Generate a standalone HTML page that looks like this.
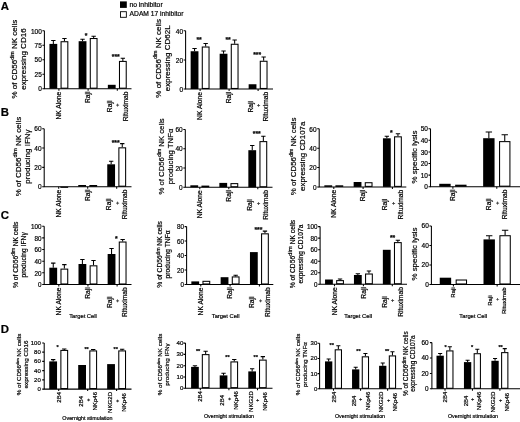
<!DOCTYPE html>
<html><head><meta charset="utf-8"><style>
html,body{margin:0;padding:0;background:#fff;}
svg{display:block;will-change:transform;filter:blur(0.35px);}
text{font-family:"Liberation Sans", sans-serif;fill:#000;stroke:#000;stroke-width:0.2px;}
</style></head><body>
<svg width="520" height="422" viewBox="0 0 520 422">
<rect width="520" height="422" fill="#fff"/>
<path d="M53.35 43.9V40.5M51.17 40.5H55.53" stroke="#000" stroke-width="1.05" fill="none"/>
<rect x="49.45" y="43.9" width="7.8" height="44.8" fill="#000"/>
<path d="M64.45 41.2V38.4M62.27 38.4H66.63" stroke="#000" stroke-width="1.05" fill="none"/>
<rect x="61.07" y="41.73" width="6.75" height="46.45" fill="#fff" stroke="#000" stroke-width="1.05"/>
<path d="M82.55 41.2V39.25M80.37 39.25H84.73" stroke="#000" stroke-width="1.05" fill="none"/>
<rect x="78.65" y="41.2" width="7.8" height="47.5" fill="#000"/>
<path d="M93.65 38V36.3M91.47 36.3H95.83" stroke="#000" stroke-width="1.05" fill="none"/>
<rect x="90.28" y="38.52" width="6.75" height="49.65" fill="#fff" stroke="#000" stroke-width="1.05"/>
<text x="86" y="37.8" font-size="6.8" text-anchor="middle" font-weight="bold">*</text>
<rect x="107.85" y="84.8" width="7.8" height="3.9" fill="#000"/>
<path d="M122.85 60.9V58.3M120.67 58.3H125.03" stroke="#000" stroke-width="1.05" fill="none"/>
<rect x="119.48" y="61.42" width="6.75" height="26.75" fill="#fff" stroke="#000" stroke-width="1.05"/>
<text x="115.8" y="58.5" font-size="6.8" text-anchor="middle" font-weight="bold">***</text>
<path d="M44.4 30.8V88.7H131.5" stroke="#000" stroke-width="1.05" fill="none"/>
<text x="41.8" y="91.44" font-size="6.5" text-anchor="end">0</text>
<text x="41.8" y="76.96" font-size="6.5" text-anchor="end">25</text>
<text x="41.8" y="62.49" font-size="6.5" text-anchor="end">50</text>
<text x="41.8" y="48.01" font-size="6.5" text-anchor="end">75</text>
<text x="41.8" y="33.54" font-size="6.5" text-anchor="end">100</text>
<path d="M42.4 88.7H44.4M42.4 74.22H44.4M42.4 59.75H44.4M42.4 45.28H44.4M42.4 30.8H44.4M58.9 88.7V90.7M88.1 88.7V90.7M117.3 88.7V90.7" stroke="#000" stroke-width="1.05" fill="none"/>
<text transform="translate(61.2,105.65) rotate(-90)" font-size="6.7" text-anchor="middle">NK Alone</text>
<text transform="translate(90.4,97.27) rotate(-90)" font-size="6.7" text-anchor="middle">Raji</text>
<text transform="translate(111.7,106.39) rotate(-90)" font-size="6.7" text-anchor="middle">Raji</text>
<text transform="translate(119.4,105.09) rotate(-90)" font-size="5.49" text-anchor="middle">+</text>
<text transform="translate(127.5,106.39) rotate(-90)" font-size="6.7" text-anchor="middle">Rituximab</text>
<text transform="translate(17,59.1) rotate(-90)" font-size="8" text-anchor="middle">% of CD56<tspan font-size="5.28" dy="-3.04">dim</tspan><tspan dy="3.04"> NK cells</tspan></text>
<text transform="translate(26.1,59.1) rotate(-90)" font-size="8" text-anchor="middle">expressing CD16</text>
<path d="M194.55 51.25V48.5M192.37 48.5H196.73" stroke="#000" stroke-width="1.05" fill="none"/>
<rect x="190.65" y="51.25" width="7.8" height="37.75" fill="#000"/>
<path d="M205.65 46.5V43.5M203.47 43.5H207.83" stroke="#000" stroke-width="1.05" fill="none"/>
<rect x="202.28" y="47.02" width="6.75" height="41.45" fill="#fff" stroke="#000" stroke-width="1.05"/>
<text x="199.1" y="41.8" font-size="6.8" text-anchor="middle" font-weight="bold">**</text>
<path d="M223.55 53.75V51M221.37 51H225.73" stroke="#000" stroke-width="1.05" fill="none"/>
<rect x="219.65" y="53.75" width="7.8" height="35.25" fill="#000"/>
<path d="M234.65 43.75V40M232.47 40H236.83" stroke="#000" stroke-width="1.05" fill="none"/>
<rect x="231.28" y="44.27" width="6.75" height="44.2" fill="#fff" stroke="#000" stroke-width="1.05"/>
<text x="228.1" y="41.8" font-size="6.8" text-anchor="middle" font-weight="bold">**</text>
<rect x="248.65" y="84.25" width="7.8" height="4.75" fill="#000"/>
<path d="M263.65 60.75V57M261.47 57H265.83" stroke="#000" stroke-width="1.05" fill="none"/>
<rect x="260.27" y="61.27" width="6.75" height="27.2" fill="#fff" stroke="#000" stroke-width="1.05"/>
<text x="257.1" y="56.8" font-size="6.8" text-anchor="middle" font-weight="bold">***</text>
<path d="M185.6 30.8V89H273" stroke="#000" stroke-width="1.05" fill="none"/>
<text x="183" y="91.74" font-size="6.5" text-anchor="end">0</text>
<text x="183" y="62.64" font-size="6.5" text-anchor="end">20</text>
<text x="183" y="33.54" font-size="6.5" text-anchor="end">40</text>
<path d="M183.6 89H185.6M183.6 59.9H185.6M183.6 30.8H185.6M200.1 89V91M229.1 89V91M258.1 89V91" stroke="#000" stroke-width="1.05" fill="none"/>
<text transform="translate(202.4,105.95) rotate(-90)" font-size="6.7" text-anchor="middle">NK Alone</text>
<text transform="translate(231.4,97.57) rotate(-90)" font-size="6.7" text-anchor="middle">Raji</text>
<text transform="translate(252.5,106.69) rotate(-90)" font-size="6.7" text-anchor="middle">Raji</text>
<text transform="translate(260.2,105.39) rotate(-90)" font-size="5.49" text-anchor="middle">+</text>
<text transform="translate(268.3,106.69) rotate(-90)" font-size="6.7" text-anchor="middle">Rituximab</text>
<text transform="translate(160.5,58.3) rotate(-90)" font-size="8" text-anchor="middle">% of CD56<tspan font-size="5.28" dy="-3.04">dim</tspan><tspan dy="3.04"> NK cells</tspan></text>
<text transform="translate(169.6,58.3) rotate(-90)" font-size="8" text-anchor="middle">expressing CD62L</text>
<rect x="49.25" y="186.7" width="7.8" height="0" fill="#000"/>
<rect x="60.88" y="187.22" width="6.75" height="0.1" fill="#fff" stroke="#000" stroke-width="1.05"/>
<rect x="78.25" y="185" width="7.8" height="1.7" fill="#000"/>
<rect x="89.88" y="185.53" width="6.75" height="0.65" fill="#fff" stroke="#000" stroke-width="1.05"/>
<path d="M111.15 164.3V161.2M108.97 161.2H113.33" stroke="#000" stroke-width="1.05" fill="none"/>
<rect x="107.25" y="164.3" width="7.8" height="22.4" fill="#000"/>
<path d="M122.25 147.3V143.6M120.07 143.6H124.43" stroke="#000" stroke-width="1.05" fill="none"/>
<rect x="118.88" y="147.83" width="6.75" height="38.35" fill="#fff" stroke="#000" stroke-width="1.05"/>
<text x="115.7" y="144.5" font-size="6.8" text-anchor="middle" font-weight="bold">***</text>
<path d="M44.2 128.7V186.7H131.5" stroke="#000" stroke-width="1.05" fill="none"/>
<text x="41.6" y="189.44" font-size="6.5" text-anchor="end">0</text>
<text x="41.6" y="170.1" font-size="6.5" text-anchor="end">20</text>
<text x="41.6" y="150.77" font-size="6.5" text-anchor="end">40</text>
<text x="41.6" y="131.44" font-size="6.5" text-anchor="end">60</text>
<path d="M42.2 186.7H44.2M42.2 167.37H44.2M42.2 148.03H44.2M42.2 128.7H44.2M58.7 186.7V188.7M87.7 186.7V188.7M116.7 186.7V188.7" stroke="#000" stroke-width="1.05" fill="none"/>
<text transform="translate(61,203.65) rotate(-90)" font-size="6.7" text-anchor="middle">NK Alone</text>
<text transform="translate(90,195.27) rotate(-90)" font-size="6.7" text-anchor="middle">Raji</text>
<text transform="translate(111.1,204.39) rotate(-90)" font-size="6.7" text-anchor="middle">Raji</text>
<text transform="translate(118.8,203.09) rotate(-90)" font-size="5.49" text-anchor="middle">+</text>
<text transform="translate(126.9,204.39) rotate(-90)" font-size="6.7" text-anchor="middle">Rituximab</text>
<text transform="translate(20.5,156.5) rotate(-90)" font-size="8" text-anchor="middle">% of CD56<tspan font-size="5.76" dy="-3.04">dim</tspan><tspan dy="3.04"> NK cells</tspan></text>
<text transform="translate(29.6,156.5) rotate(-90)" font-size="8" text-anchor="middle">producing IFNγ</text>
<rect x="190.35" y="185.3" width="7.8" height="2" fill="#000"/>
<rect x="201.98" y="186.12" width="6.75" height="0.65" fill="#fff" stroke="#000" stroke-width="1.05"/>
<rect x="219.35" y="182.9" width="7.8" height="4.4" fill="#000"/>
<rect x="230.98" y="183.62" width="6.75" height="3.15" fill="#fff" stroke="#000" stroke-width="1.05"/>
<path d="M252.25 150.2V145.5M250.07 145.5H254.43" stroke="#000" stroke-width="1.05" fill="none"/>
<rect x="248.35" y="150.2" width="7.8" height="37.1" fill="#000"/>
<path d="M263.35 141.1V136.3M261.17 136.3H265.53" stroke="#000" stroke-width="1.05" fill="none"/>
<rect x="259.97" y="141.62" width="6.75" height="45.15" fill="#fff" stroke="#000" stroke-width="1.05"/>
<text x="256.8" y="136.3" font-size="6.8" text-anchor="middle" font-weight="bold">***</text>
<path d="M185.3 129.4V187.3H272.5" stroke="#000" stroke-width="1.05" fill="none"/>
<text x="182.7" y="190.04" font-size="6.5" text-anchor="end">0</text>
<text x="182.7" y="170.74" font-size="6.5" text-anchor="end">20</text>
<text x="182.7" y="151.44" font-size="6.5" text-anchor="end">40</text>
<text x="182.7" y="132.14" font-size="6.5" text-anchor="end">60</text>
<path d="M183.3 187.3H185.3M183.3 168H185.3M183.3 148.7H185.3M183.3 129.4H185.3M199.8 187.3V189.3M228.8 187.3V189.3M257.8 187.3V189.3" stroke="#000" stroke-width="1.05" fill="none"/>
<text transform="translate(202.1,204.25) rotate(-90)" font-size="6.7" text-anchor="middle">NK Alone</text>
<text transform="translate(231.1,195.87) rotate(-90)" font-size="6.7" text-anchor="middle">Raji</text>
<text transform="translate(252.2,204.99) rotate(-90)" font-size="6.7" text-anchor="middle">Raji</text>
<text transform="translate(259.9,203.69) rotate(-90)" font-size="5.49" text-anchor="middle">+</text>
<text transform="translate(268,204.99) rotate(-90)" font-size="6.7" text-anchor="middle">Rituximab</text>
<text transform="translate(163.5,156.4) rotate(-90)" font-size="7.75" text-anchor="middle">% of CD56<tspan font-size="5.12" dy="-2.94">dim</tspan><tspan dy="2.94"> NK cells</tspan></text>
<text transform="translate(172.6,156.4) rotate(-90)" font-size="7.75" text-anchor="middle">producing TNFα</text>
<rect x="324.35" y="185.3" width="7.8" height="1.6" fill="#000"/>
<rect x="335.97" y="185.83" width="6.75" height="0.55" fill="#fff" stroke="#000" stroke-width="1.05"/>
<rect x="353.65" y="182" width="7.8" height="4.9" fill="#000"/>
<rect x="365.27" y="182.72" width="6.75" height="3.65" fill="#fff" stroke="#000" stroke-width="1.05"/>
<path d="M386.85 138.3V136.3M384.67 136.3H389.03" stroke="#000" stroke-width="1.05" fill="none"/>
<rect x="382.95" y="138.3" width="7.8" height="48.6" fill="#000"/>
<path d="M397.95 136.3V133.8M395.77 133.8H400.13" stroke="#000" stroke-width="1.05" fill="none"/>
<rect x="394.57" y="136.83" width="6.75" height="49.55" fill="#fff" stroke="#000" stroke-width="1.05"/>
<text x="391.4" y="135" font-size="6.8" text-anchor="middle" font-weight="bold">*</text>
<path d="M319.2 128.8V186.9H406.3" stroke="#000" stroke-width="1.05" fill="none"/>
<text x="316.6" y="189.64" font-size="6.5" text-anchor="end">0</text>
<text x="316.6" y="170.27" font-size="6.5" text-anchor="end">20</text>
<text x="316.6" y="150.9" font-size="6.5" text-anchor="end">40</text>
<text x="316.6" y="131.54" font-size="6.5" text-anchor="end">60</text>
<path d="M317.2 186.9H319.2M317.2 167.53H319.2M317.2 148.17H319.2M317.2 128.8H319.2M333.8 186.9V188.9M363.1 186.9V188.9M392.4 186.9V188.9" stroke="#000" stroke-width="1.05" fill="none"/>
<text transform="translate(336.1,203.85) rotate(-90)" font-size="6.7" text-anchor="middle">NK Alone</text>
<text transform="translate(365.4,195.47) rotate(-90)" font-size="6.7" text-anchor="middle">Raji</text>
<text transform="translate(386.8,204.59) rotate(-90)" font-size="6.7" text-anchor="middle">Raji</text>
<text transform="translate(394.5,203.29) rotate(-90)" font-size="5.49" text-anchor="middle">+</text>
<text transform="translate(402.6,204.59) rotate(-90)" font-size="6.7" text-anchor="middle">Rituximab</text>
<text transform="translate(296,156.3) rotate(-90)" font-size="7.9" text-anchor="middle">% of CD56<tspan font-size="5.21" dy="-3">dim</tspan><tspan dy="3"> NK cells</tspan></text>
<text transform="translate(305.1,156.3) rotate(-90)" font-size="7.9" text-anchor="middle">expressing CD107a</text>
<rect x="439.25" y="183.8" width="11.4" height="2.9" fill="#000"/>
<rect x="455.67" y="185.22" width="10.35" height="0.95" fill="#fff" stroke="#000" stroke-width="1.05"/>
<path d="M488.85 138.2V131.9M485.66 131.9H492.04" stroke="#000" stroke-width="1.05" fill="none"/>
<rect x="483.15" y="138.2" width="11.4" height="48.5" fill="#000"/>
<path d="M504.75 141.1V134.7M501.56 134.7H507.94" stroke="#000" stroke-width="1.05" fill="none"/>
<rect x="499.57" y="141.62" width="10.35" height="44.55" fill="#fff" stroke="#000" stroke-width="1.05"/>
<path d="M430.5 128.7V186.7H520" stroke="#000" stroke-width="1.05" fill="none"/>
<text x="427.9" y="189.44" font-size="6.5" text-anchor="end">0</text>
<text x="427.9" y="177.84" font-size="6.5" text-anchor="end">10</text>
<text x="427.9" y="166.24" font-size="6.5" text-anchor="end">20</text>
<text x="427.9" y="154.64" font-size="6.5" text-anchor="end">30</text>
<text x="427.9" y="143.04" font-size="6.5" text-anchor="end">40</text>
<text x="427.9" y="131.44" font-size="6.5" text-anchor="end">50</text>
<path d="M428.5 186.7H430.5M428.5 175.1H430.5M428.5 163.5H430.5M428.5 151.9H430.5M428.5 140.3H430.5M428.5 128.7H430.5M452.9 186.7V188.7M496.8 186.7V188.7" stroke="#000" stroke-width="1.05" fill="none"/>
<text transform="translate(455.2,195.27) rotate(-90)" font-size="6.7" text-anchor="middle">Raji</text>
<text transform="translate(491.2,204.39) rotate(-90)" font-size="6.7" text-anchor="middle">Raji</text>
<text transform="translate(498.9,203.09) rotate(-90)" font-size="5.49" text-anchor="middle">+</text>
<text transform="translate(507,204.39) rotate(-90)" font-size="6.7" text-anchor="middle">Rituximab</text>
<text transform="translate(417,157) rotate(-90)" font-size="7.9" text-anchor="middle">% specific lysis</text>
<path d="M53.25 267.7V263.1M51.07 263.1H55.43" stroke="#000" stroke-width="1.05" fill="none"/>
<rect x="49.35" y="267.7" width="7.8" height="16.8" fill="#000"/>
<path d="M64.35 268.6V264.6M62.17 264.6H66.53" stroke="#000" stroke-width="1.05" fill="none"/>
<rect x="60.98" y="269.12" width="6.75" height="14.85" fill="#fff" stroke="#000" stroke-width="1.05"/>
<path d="M82.4 264V259.4M80.22 259.4H84.58" stroke="#000" stroke-width="1.05" fill="none"/>
<rect x="78.5" y="264" width="7.8" height="20.5" fill="#000"/>
<path d="M93.5 265.3V260.4M91.32 260.4H95.68" stroke="#000" stroke-width="1.05" fill="none"/>
<rect x="90.13" y="265.82" width="6.75" height="18.15" fill="#fff" stroke="#000" stroke-width="1.05"/>
<path d="M111.55 254V248.5M109.37 248.5H113.73" stroke="#000" stroke-width="1.05" fill="none"/>
<rect x="107.65" y="254" width="7.8" height="30.5" fill="#000"/>
<path d="M122.65 241.5V239.4M120.47 239.4H124.83" stroke="#000" stroke-width="1.05" fill="none"/>
<rect x="119.28" y="242.03" width="6.75" height="41.95" fill="#fff" stroke="#000" stroke-width="1.05"/>
<text x="116.4" y="240.5" font-size="6.8" text-anchor="middle" font-weight="bold">*</text>
<path d="M44.2 226.2V284.5H131.5" stroke="#000" stroke-width="1.05" fill="none"/>
<text x="41.6" y="287.17" font-size="6.3" text-anchor="end">0</text>
<text x="41.6" y="275.51" font-size="6.3" text-anchor="end">20</text>
<text x="41.6" y="263.85" font-size="6.3" text-anchor="end">40</text>
<text x="41.6" y="252.19" font-size="6.3" text-anchor="end">60</text>
<text x="41.6" y="240.53" font-size="6.3" text-anchor="end">80</text>
<text x="41.6" y="228.87" font-size="6.3" text-anchor="end">100</text>
<path d="M42.2 284.5H44.2M42.2 272.84H44.2M42.2 261.18H44.2M42.2 249.52H44.2M42.2 237.86H44.2M42.2 226.2H44.2M58.8 284.5V286.5M87.95 284.5V286.5M117.1 284.5V286.5" stroke="#000" stroke-width="1.05" fill="none"/>
<text transform="translate(61.1,301.45) rotate(-90)" font-size="6.7" text-anchor="middle">NK Alone</text>
<text transform="translate(90.25,293.07) rotate(-90)" font-size="6.7" text-anchor="middle">Raji</text>
<text transform="translate(111.5,302.19) rotate(-90)" font-size="6.7" text-anchor="middle">Raji</text>
<text transform="translate(119.2,300.89) rotate(-90)" font-size="5.49" text-anchor="middle">+</text>
<text transform="translate(127.3,302.19) rotate(-90)" font-size="6.7" text-anchor="middle">Rituximab</text>
<text transform="translate(18,254.9) rotate(-90)" font-size="6.7" text-anchor="middle">% of CD56<tspan font-size="4.69" dy="-2.55">dim</tspan><tspan dy="2.55"> NK cells</tspan></text>
<text transform="translate(25.6,254.9) rotate(-90)" font-size="6.7" text-anchor="middle">producing IFNγ</text>
<text x="83" y="317.8" font-size="5.8" text-anchor="middle">Target Cell</text>
<rect x="191.35" y="281.4" width="7.8" height="3.1" fill="#000"/>
<rect x="202.97" y="281.32" width="6.75" height="2.65" fill="#fff" stroke="#000" stroke-width="1.05"/>
<rect x="220.65" y="277.2" width="7.8" height="7.3" fill="#000"/>
<path d="M235.65 276.4V275.3M233.47 275.3H237.83" stroke="#000" stroke-width="1.05" fill="none"/>
<rect x="232.28" y="276.92" width="6.75" height="7.05" fill="#fff" stroke="#000" stroke-width="1.05"/>
<rect x="249.95" y="252.1" width="7.8" height="32.4" fill="#000"/>
<path d="M264.95 233.3V231.1M262.77 231.1H267.13" stroke="#000" stroke-width="1.05" fill="none"/>
<rect x="261.57" y="233.83" width="6.75" height="50.15" fill="#fff" stroke="#000" stroke-width="1.05"/>
<text x="258.4" y="232.3" font-size="6.8" text-anchor="middle" font-weight="bold">***</text>
<path d="M186.6 226.6V284.5H273.3" stroke="#000" stroke-width="1.05" fill="none"/>
<text x="184" y="287.17" font-size="6.3" text-anchor="end">0</text>
<text x="184" y="272.69" font-size="6.3" text-anchor="end">20</text>
<text x="184" y="258.22" font-size="6.3" text-anchor="end">40</text>
<text x="184" y="243.74" font-size="6.3" text-anchor="end">60</text>
<text x="184" y="229.27" font-size="6.3" text-anchor="end">80</text>
<path d="M184.6 284.5H186.6M184.6 270.02H186.6M184.6 255.55H186.6M184.6 241.07H186.6M184.6 226.6H186.6M200.8 284.5V286.5M230.1 284.5V286.5M259.4 284.5V286.5" stroke="#000" stroke-width="1.05" fill="none"/>
<text transform="translate(203.1,301.45) rotate(-90)" font-size="6.7" text-anchor="middle">NK Alone</text>
<text transform="translate(232.4,293.07) rotate(-90)" font-size="6.7" text-anchor="middle">Raji</text>
<text transform="translate(253.8,302.19) rotate(-90)" font-size="6.7" text-anchor="middle">Raji</text>
<text transform="translate(261.5,300.89) rotate(-90)" font-size="5.49" text-anchor="middle">+</text>
<text transform="translate(269.6,302.19) rotate(-90)" font-size="6.7" text-anchor="middle">Rituximab</text>
<text transform="translate(162.3,254.4) rotate(-90)" font-size="6.7" text-anchor="middle">% of CD56<tspan font-size="4.82" dy="-2.55">dim</tspan><tspan dy="2.55"> NK cells</tspan></text>
<text transform="translate(169.9,254.4) rotate(-90)" font-size="6.7" text-anchor="middle">producing TNFα</text>
<text x="225.6" y="317.8" font-size="5.8" text-anchor="middle">Target Cell</text>
<rect x="325.05" y="279.5" width="7.8" height="4.8" fill="#000"/>
<path d="M340.05 280.1V279M337.87 279H342.23" stroke="#000" stroke-width="1.05" fill="none"/>
<rect x="336.67" y="280.62" width="6.75" height="3.15" fill="#fff" stroke="#000" stroke-width="1.05"/>
<path d="M357.85 275V273.7M355.67 273.7H360.03" stroke="#000" stroke-width="1.05" fill="none"/>
<rect x="353.95" y="275" width="7.8" height="9.3" fill="#000"/>
<path d="M368.95 273.5V271M366.77 271H371.13" stroke="#000" stroke-width="1.05" fill="none"/>
<rect x="365.57" y="274.02" width="6.75" height="9.75" fill="#fff" stroke="#000" stroke-width="1.05"/>
<rect x="382.85" y="249.8" width="7.8" height="34.5" fill="#000"/>
<path d="M397.85 242.1V240.3M395.67 240.3H400.03" stroke="#000" stroke-width="1.05" fill="none"/>
<rect x="394.47" y="242.62" width="6.75" height="41.15" fill="#fff" stroke="#000" stroke-width="1.05"/>
<text x="392.6" y="240" font-size="6.8" text-anchor="middle" font-weight="bold">**</text>
<path d="M320.1 226.6V284.3H407" stroke="#000" stroke-width="1.05" fill="none"/>
<text x="317.5" y="286.97" font-size="6.3" text-anchor="end">0</text>
<text x="317.5" y="275.43" font-size="6.3" text-anchor="end">20</text>
<text x="317.5" y="263.89" font-size="6.3" text-anchor="end">40</text>
<text x="317.5" y="252.35" font-size="6.3" text-anchor="end">60</text>
<text x="317.5" y="240.81" font-size="6.3" text-anchor="end">80</text>
<text x="317.5" y="229.27" font-size="6.3" text-anchor="end">100</text>
<path d="M318.1 284.3H320.1M318.1 272.76H320.1M318.1 261.22H320.1M318.1 249.68H320.1M318.1 238.14H320.1M318.1 226.6H320.1M334.5 284.3V286.3M363.4 284.3V286.3M392.3 284.3V286.3" stroke="#000" stroke-width="1.05" fill="none"/>
<text transform="translate(336.8,301.25) rotate(-90)" font-size="6.7" text-anchor="middle">NK Alone</text>
<text transform="translate(365.7,292.87) rotate(-90)" font-size="6.7" text-anchor="middle">Raji</text>
<text transform="translate(386.7,301.99) rotate(-90)" font-size="6.7" text-anchor="middle">Raji</text>
<text transform="translate(394.4,300.69) rotate(-90)" font-size="5.49" text-anchor="middle">+</text>
<text transform="translate(402.5,301.99) rotate(-90)" font-size="6.7" text-anchor="middle">Rituximab</text>
<text transform="translate(295.3,254) rotate(-90)" font-size="6.7" text-anchor="middle">% of CD56<tspan font-size="6.03" dy="-3.35">dim</tspan><tspan dy="3.35"> NK cells</tspan></text>
<text transform="translate(302.9,254) rotate(-90)" font-size="6.7" text-anchor="middle">expressing CD107a</text>
<text x="358.2" y="317.8" font-size="5.8" text-anchor="middle">Target Cell</text>
<rect x="439.75" y="277.7" width="11.4" height="6.8" fill="#000"/>
<rect x="456.17" y="280.02" width="10.35" height="3.95" fill="#fff" stroke="#000" stroke-width="1.05"/>
<path d="M489.2 239.4V235.7M486.01 235.7H492.39" stroke="#000" stroke-width="1.05" fill="none"/>
<rect x="483.5" y="239.4" width="11.4" height="45.1" fill="#000"/>
<path d="M505.1 235.2V230.2M501.91 230.2H508.29" stroke="#000" stroke-width="1.05" fill="none"/>
<rect x="499.92" y="235.72" width="10.35" height="48.25" fill="#fff" stroke="#000" stroke-width="1.05"/>
<path d="M431.4 226V284.5H520" stroke="#000" stroke-width="1.05" fill="none"/>
<text x="428.8" y="286.74" font-size="6.5" text-anchor="end">0</text>
<text x="428.8" y="267.24" font-size="6.5" text-anchor="end">20</text>
<text x="428.8" y="247.74" font-size="6.5" text-anchor="end">40</text>
<text x="428.8" y="228.24" font-size="6.5" text-anchor="end">60</text>
<path d="M429.4 284.5H431.4M429.4 265H431.4M429.4 245.5H431.4M429.4 226H431.4M453.4 284.5V286.5M497.15 284.5V286.5" stroke="#000" stroke-width="1.05" fill="none"/>
<text transform="translate(455.46,292.47) rotate(-90)" font-size="6" text-anchor="middle">Raji</text>
<text transform="translate(492.31,300.64) rotate(-90)" font-size="6" text-anchor="middle">Raji</text>
<text transform="translate(499.01,299.34) rotate(-90)" font-size="4.92" text-anchor="middle">+</text>
<text transform="translate(506.11,300.64) rotate(-90)" font-size="6" text-anchor="middle">Rituximab</text>
<text transform="translate(417,254) rotate(-90)" font-size="7.9" text-anchor="middle">% specific lysis</text>
<text x="473.2" y="317.8" font-size="5.8" text-anchor="middle">Target Cell</text>
<path d="M53.15 361.4V359.6M50.97 359.6H55.33" stroke="#000" stroke-width="1.05" fill="none"/>
<rect x="49.25" y="361.4" width="7.8" height="27.7" fill="#000"/>
<path d="M64.25 349.9V349M62.07 349H66.43" stroke="#000" stroke-width="1.05" fill="none"/>
<rect x="60.88" y="350.42" width="6.75" height="38.15" fill="#fff" stroke="#000" stroke-width="1.05"/>
<text x="57.7" y="349.3" font-size="5.6" text-anchor="middle" font-weight="bold">*</text>
<rect x="78.2" y="365" width="7.8" height="24.1" fill="#000"/>
<path d="M93.2 350.4V349.5M91.02 349.5H95.38" stroke="#000" stroke-width="1.05" fill="none"/>
<rect x="89.83" y="350.92" width="6.75" height="37.65" fill="#fff" stroke="#000" stroke-width="1.05"/>
<text x="86.6" y="350.5" font-size="5.6" text-anchor="middle" font-weight="bold">**</text>
<rect x="107.15" y="364.1" width="7.8" height="25" fill="#000"/>
<path d="M122.15 350.4V349.2M119.97 349.2H124.33" stroke="#000" stroke-width="1.05" fill="none"/>
<rect x="118.78" y="350.92" width="6.75" height="37.65" fill="#fff" stroke="#000" stroke-width="1.05"/>
<text x="115.8" y="350.5" font-size="5.6" text-anchor="middle" font-weight="bold">**</text>
<path d="M44.2 342.9V389.1H131.5" stroke="#000" stroke-width="1.05" fill="none"/>
<text x="40.8" y="391.06" font-size="6" text-anchor="end">0</text>
<text x="40.8" y="381.82" font-size="6" text-anchor="end">20</text>
<text x="40.8" y="372.58" font-size="6" text-anchor="end">40</text>
<text x="40.8" y="363.34" font-size="6" text-anchor="end">60</text>
<text x="40.8" y="354.1" font-size="6" text-anchor="end">80</text>
<text x="40.8" y="344.86" font-size="6" text-anchor="end">100</text>
<path d="M42.2 389.1H44.2M42.2 379.86H44.2M42.2 370.62H44.2M42.2 361.38H44.2M42.2 352.14H44.2M42.2 342.9H44.2M58.7 389.1V391.1M87.65 389.1V391.1M116.6 389.1V391.1" stroke="#000" stroke-width="1.05" fill="none"/>
<text transform="translate(60.8,397.33) rotate(-90)" font-size="6.1" text-anchor="middle">2B4</text>
<text transform="translate(82.85,401.23) rotate(-90)" font-size="6.1" text-anchor="middle">2B4</text>
<text transform="translate(89.55,399.93) rotate(-90)" font-size="5" text-anchor="middle">+</text>
<text transform="translate(96.65,401.23) rotate(-90)" font-size="6.1" text-anchor="middle">NKp46</text>
<text transform="translate(111.8,402.41) rotate(-90)" font-size="6.1" text-anchor="middle">NKG2D</text>
<text transform="translate(118.5,401.11) rotate(-90)" font-size="5" text-anchor="middle">+</text>
<text transform="translate(125.6,402.41) rotate(-90)" font-size="6.1" text-anchor="middle">NKp46</text>
<text transform="translate(21,364.5) rotate(-90)" font-size="6.25" text-anchor="middle">% of CD56<tspan font-size="4.12" dy="-2.38">dim</tspan><tspan dy="2.38"> NK cells</tspan></text>
<text transform="translate(27.7,364.5) rotate(-90)" font-size="6.25" text-anchor="middle">expressing CD16</text>
<text x="87.4" y="420" font-size="5.35" text-anchor="middle">Overnight stimulation</text>
<path d="M194.95 366.9V365.8M192.79 365.8H197.11" stroke="#000" stroke-width="1.05" fill="none"/>
<rect x="191.1" y="366.9" width="7.7" height="21.3" fill="#000"/>
<path d="M205.65 354.1V351.2M203.49 351.2H207.81" stroke="#000" stroke-width="1.05" fill="none"/>
<rect x="202.33" y="354.62" width="6.65" height="33.05" fill="#fff" stroke="#000" stroke-width="1.05"/>
<text x="198.1" y="353.1" font-size="5.6" text-anchor="middle" font-weight="bold">**</text>
<path d="M223.55 375.4V373.3M221.39 373.3H225.71" stroke="#000" stroke-width="1.05" fill="none"/>
<rect x="219.7" y="375.4" width="7.7" height="12.8" fill="#000"/>
<path d="M234.25 361.4V359.4M232.09 359.4H236.41" stroke="#000" stroke-width="1.05" fill="none"/>
<rect x="230.93" y="361.92" width="6.65" height="25.75" fill="#fff" stroke="#000" stroke-width="1.05"/>
<text x="227.5" y="358.8" font-size="5.6" text-anchor="middle" font-weight="bold">**</text>
<path d="M252.15 371.4V368.7M249.99 368.7H254.31" stroke="#000" stroke-width="1.05" fill="none"/>
<rect x="248.3" y="371.4" width="7.7" height="16.8" fill="#000"/>
<path d="M262.85 359.6V356.6M260.69 356.6H265.01" stroke="#000" stroke-width="1.05" fill="none"/>
<rect x="259.52" y="360.12" width="6.65" height="27.55" fill="#fff" stroke="#000" stroke-width="1.05"/>
<text x="255.8" y="358.8" font-size="5.6" text-anchor="middle" font-weight="bold">**</text>
<path d="M185.5 343.1V388.2H272.5" stroke="#000" stroke-width="1.05" fill="none"/>
<text x="183.4" y="390.2" font-size="6.1" text-anchor="end">0</text>
<text x="183.4" y="378.92" font-size="6.1" text-anchor="end">10</text>
<text x="183.4" y="367.65" font-size="6.1" text-anchor="end">20</text>
<text x="183.4" y="356.37" font-size="6.1" text-anchor="end">30</text>
<text x="183.4" y="345.1" font-size="6.1" text-anchor="end">40</text>
<path d="M183.5 388.2H185.5M183.5 376.93H185.5M183.5 365.65H185.5M183.5 354.38H185.5M183.5 343.1H185.5M200.3 388.2V390.2M228.9 388.2V390.2M257.5 388.2V390.2" stroke="#000" stroke-width="1.05" fill="none"/>
<text transform="translate(202.4,396.43) rotate(-90)" font-size="6.1" text-anchor="middle">2B4</text>
<text transform="translate(224.1,400.33) rotate(-90)" font-size="6.1" text-anchor="middle">2B4</text>
<text transform="translate(230.8,399.03) rotate(-90)" font-size="5" text-anchor="middle">+</text>
<text transform="translate(237.9,400.33) rotate(-90)" font-size="6.1" text-anchor="middle">NKp46</text>
<text transform="translate(252.7,401.51) rotate(-90)" font-size="6.1" text-anchor="middle">NKG2D</text>
<text transform="translate(259.4,400.21) rotate(-90)" font-size="5" text-anchor="middle">+</text>
<text transform="translate(266.5,401.51) rotate(-90)" font-size="6.1" text-anchor="middle">NKp46</text>
<text transform="translate(162,364.5) rotate(-90)" font-size="6.25" text-anchor="middle">% of CD56<tspan font-size="4.12" dy="-2.38">dim</tspan><tspan dy="2.38"> NK cells</tspan></text>
<text transform="translate(168.7,364.5) rotate(-90)" font-size="6.25" text-anchor="middle">producing IFNγ</text>
<text x="229" y="417.9" font-size="5.35" text-anchor="middle">Overnight stimulation</text>
<path d="M328.65 361.4V359M326.61 359H330.69" stroke="#000" stroke-width="1.05" fill="none"/>
<rect x="325" y="361.4" width="7.3" height="27.4" fill="#000"/>
<path d="M338.35 349.3V345.7M336.31 345.7H340.39" stroke="#000" stroke-width="1.05" fill="none"/>
<rect x="335.22" y="349.82" width="6.25" height="38.45" fill="#fff" stroke="#000" stroke-width="1.05"/>
<text x="331.8" y="347.3" font-size="5.6" text-anchor="middle" font-weight="bold">**</text>
<path d="M355.7 369.4V367.2M353.66 367.2H357.74" stroke="#000" stroke-width="1.05" fill="none"/>
<rect x="352.05" y="369.4" width="7.3" height="19.4" fill="#000"/>
<path d="M365.4 356.3V353.5M363.36 353.5H367.44" stroke="#000" stroke-width="1.05" fill="none"/>
<rect x="362.27" y="356.82" width="6.25" height="31.45" fill="#fff" stroke="#000" stroke-width="1.05"/>
<text x="358.5" y="352.8" font-size="5.6" text-anchor="middle" font-weight="bold">**</text>
<path d="M382.75 365.8V363M380.71 363H384.79" stroke="#000" stroke-width="1.05" fill="none"/>
<rect x="379.1" y="365.8" width="7.3" height="23" fill="#000"/>
<path d="M392.45 355.4V351.7M390.41 351.7H394.49" stroke="#000" stroke-width="1.05" fill="none"/>
<rect x="389.32" y="355.92" width="6.25" height="32.35" fill="#fff" stroke="#000" stroke-width="1.05"/>
<text x="387.1" y="352.8" font-size="5.6" text-anchor="middle" font-weight="bold">**</text>
<path d="M319.6 343.2V388.8H402" stroke="#000" stroke-width="1.05" fill="none"/>
<text x="317.3" y="390.76" font-size="6" text-anchor="end">0</text>
<text x="317.3" y="375.56" font-size="6" text-anchor="end">10</text>
<text x="317.3" y="360.36" font-size="6" text-anchor="end">20</text>
<text x="317.3" y="345.16" font-size="6" text-anchor="end">30</text>
<path d="M317.6 388.8H319.6M317.6 373.6H319.6M317.6 358.4H319.6M317.6 343.2H319.6M333.5 388.8V390.8M360.55 388.8V390.8M387.6 388.8V390.8" stroke="#000" stroke-width="1.05" fill="none"/>
<text transform="translate(335.6,397.03) rotate(-90)" font-size="6.1" text-anchor="middle">2B4</text>
<text transform="translate(355.75,400.93) rotate(-90)" font-size="6.1" text-anchor="middle">2B4</text>
<text transform="translate(362.45,399.63) rotate(-90)" font-size="5" text-anchor="middle">+</text>
<text transform="translate(369.55,400.93) rotate(-90)" font-size="6.1" text-anchor="middle">NKp46</text>
<text transform="translate(382.8,402.11) rotate(-90)" font-size="6.1" text-anchor="middle">NKG2D</text>
<text transform="translate(389.5,400.81) rotate(-90)" font-size="5" text-anchor="middle">+</text>
<text transform="translate(396.6,402.11) rotate(-90)" font-size="6.1" text-anchor="middle">NKp46</text>
<text transform="translate(300.1,364.5) rotate(-90)" font-size="6.25" text-anchor="middle">% of CD56<tspan font-size="4.12" dy="-2.38">dim</tspan><tspan dy="2.38"> NK cells</tspan></text>
<text transform="translate(306.8,364.5) rotate(-90)" font-size="6.25" text-anchor="middle">producing TNFα</text>
<text x="360" y="417.9" font-size="5.35" text-anchor="middle">Overnight stimulation</text>
<path d="M440.15 355.7V353.5M438.11 353.5H442.19" stroke="#000" stroke-width="1.05" fill="none"/>
<rect x="436.5" y="355.7" width="7.3" height="33.1" fill="#000"/>
<path d="M449.85 350.4V346.8M447.81 346.8H451.89" stroke="#000" stroke-width="1.05" fill="none"/>
<rect x="446.72" y="350.92" width="6.25" height="37.35" fill="#fff" stroke="#000" stroke-width="1.05"/>
<text x="445.6" y="348.6" font-size="5.6" text-anchor="middle" font-weight="bold">*</text>
<path d="M467.6 362.1V360.3M465.56 360.3H469.64" stroke="#000" stroke-width="1.05" fill="none"/>
<rect x="463.95" y="362.1" width="7.3" height="26.7" fill="#000"/>
<path d="M477.3 353.2V349.3M475.26 349.3H479.34" stroke="#000" stroke-width="1.05" fill="none"/>
<rect x="474.17" y="353.72" width="6.25" height="34.55" fill="#fff" stroke="#000" stroke-width="1.05"/>
<text x="472.1" y="348.6" font-size="5.6" text-anchor="middle" font-weight="bold">*</text>
<path d="M495.05 360.8V358.5M493.01 358.5H497.09" stroke="#000" stroke-width="1.05" fill="none"/>
<rect x="491.4" y="360.8" width="7.3" height="28" fill="#000"/>
<path d="M504.75 352.1V348.6M502.71 348.6H506.79" stroke="#000" stroke-width="1.05" fill="none"/>
<rect x="501.62" y="352.62" width="6.25" height="35.65" fill="#fff" stroke="#000" stroke-width="1.05"/>
<text x="500.6" y="348.6" font-size="5.6" text-anchor="middle" font-weight="bold">**</text>
<path d="M431.9 342.6V388.8H520" stroke="#000" stroke-width="1.05" fill="none"/>
<text x="428.6" y="390.9" font-size="6.4" text-anchor="end">0</text>
<text x="428.6" y="375.5" font-size="6.4" text-anchor="end">20</text>
<text x="428.6" y="360.1" font-size="6.4" text-anchor="end">40</text>
<text x="428.6" y="344.7" font-size="6.4" text-anchor="end">60</text>
<path d="M429.9 388.8H431.9M429.9 373.4H431.9M429.9 358H431.9M429.9 342.6H431.9M445 388.8V390.8M472.45 388.8V390.8M499.9 388.8V390.8" stroke="#000" stroke-width="1.05" fill="none"/>
<text transform="translate(447.1,397.03) rotate(-90)" font-size="6.1" text-anchor="middle">2B4</text>
<text transform="translate(467.65,400.93) rotate(-90)" font-size="6.1" text-anchor="middle">2B4</text>
<text transform="translate(474.35,399.63) rotate(-90)" font-size="5" text-anchor="middle">+</text>
<text transform="translate(481.45,400.93) rotate(-90)" font-size="6.1" text-anchor="middle">NKp46</text>
<text transform="translate(495.1,402.11) rotate(-90)" font-size="6.1" text-anchor="middle">NKG2D</text>
<text transform="translate(501.8,400.81) rotate(-90)" font-size="5" text-anchor="middle">+</text>
<text transform="translate(508.9,402.11) rotate(-90)" font-size="6.1" text-anchor="middle">NKp46</text>
<text transform="translate(408,363.6) rotate(-90)" font-size="6.45" text-anchor="middle">% of CD56<tspan font-size="5.03" dy="-2.45">dim</tspan><tspan dy="2.45"> NK cells</tspan></text>
<text transform="translate(414.8,363.6) rotate(-90)" font-size="6.45" text-anchor="middle">expressing CD107a</text>
<text x="473" y="417.9" font-size="5.35" text-anchor="middle">Overnight stimulation</text>
<text x="0.7" y="9.5" font-size="11.4" text-anchor="start" font-weight="bold">A</text>
<text x="0.7" y="116.3" font-size="11.4" text-anchor="start" font-weight="bold">B</text>
<text x="0.7" y="219.4" font-size="11.4" text-anchor="start" font-weight="bold">C</text>
<text x="0.7" y="332.9" font-size="11.4" text-anchor="start" font-weight="bold">D</text>
<rect x="120" y="1.4" width="6.8" height="6.5" fill="#000"/>
<rect x="120.45" y="11.7" width="5.9" height="5.6" fill="#fff" stroke="#000" stroke-width="0.9"/>
<text x="129.4" y="6.6" font-size="6.8" text-anchor="start">no inhibitor</text>
<text x="129.6" y="16.3" font-size="6.7" text-anchor="start">ADAM 17 inhibitor</text>
</svg>
</body></html>
